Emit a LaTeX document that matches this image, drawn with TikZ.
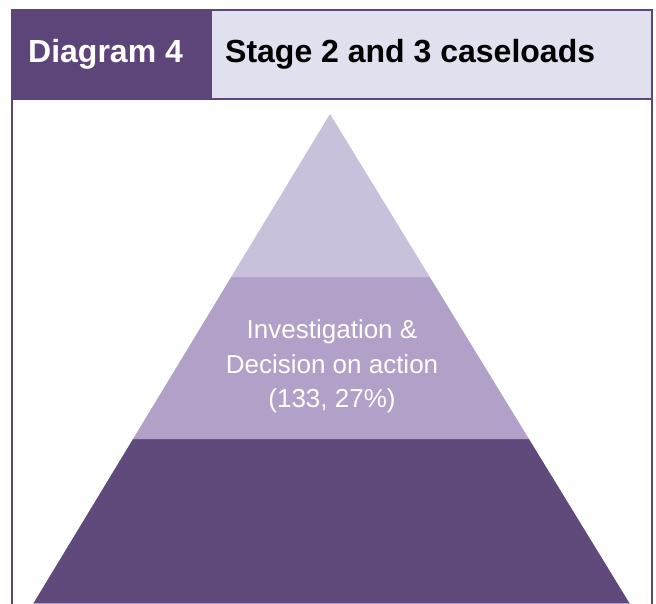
\documentclass[tikz,border=0pt]{standalone}
\usepackage{fontspec}
\usetikzlibrary{calc}
\setmainfont{Liberation Sans}
\definecolor{hdrdark}{HTML}{5D457A}
\definecolor{hdrlight}{HTML}{E1E0EE}
\definecolor{tiertop}{HTML}{C9C0DC}
\definecolor{tiermid}{HTML}{B1A0C8}
\definecolor{tierbot}{HTML}{604A7B}
\begin{document}
\begin{tikzpicture}[x=1pt,y=-1pt,
  hdrtext/.style={anchor=base west,inner sep=0pt,font=\fontsize{32}{36}\selectfont\bfseries},
  tiertext/.style={anchor=base,inner sep=0pt,text=white,font=\fontsize{26}{30}\selectfont},
  framepen/.style={draw=hdrdark,line width=2pt}]
\useasboundingbox (0,0) rectangle (656,604);
% header
\fill[hdrdark] (12,10) rectangle (211,99);
\fill[hdrlight] (211,10) rectangle (652,99);
\node[hdrtext,text=white] (dlabel) at (28,63) {Diagram 4};
\node[hdrtext,text=black] (dtitle) at (225,63) {Stage 2 and 3 caseloads};
% pyramid
\coordinate (apex) at (330,114);
\coordinate (bl) at (33,604);
\coordinate (br) at (630,604);
\fill[tierbot] (bl) -- (br) -- ($(apex)!0.6633!(br)$) -- ($(apex)!0.6633!(bl)$) -- cycle;
\fill[tiermid] ($(apex)!0.6633!(bl)$) -- ($(apex)!0.6633!(br)$) -- ($(apex)!0.3327!(br)$) -- ($(apex)!0.3327!(bl)$) -- cycle;
\fill[tiertop] ($(apex)!0.3327!(bl)$) -- ($(apex)!0.3327!(br)$) -- (apex) -- cycle;
\draw[tiermid,line width=1pt] (33,603.5) -- (630,603.5);
\node[tiertext] (t1) at (332,338) {Investigation \&};
\node[tiertext] (t2) at (332,373) {Decision on action};
\node[tiertext] (t3) at (332,407) {(133, 27\%)};
% frame
\draw[framepen] (12,99) -- (652,99);
\draw[framepen] (211,10) -- (211,99);
\draw[framepen] (12,606) -- (12,10) -- (652,10) -- (652,606);
\end{tikzpicture}
\end{document}
